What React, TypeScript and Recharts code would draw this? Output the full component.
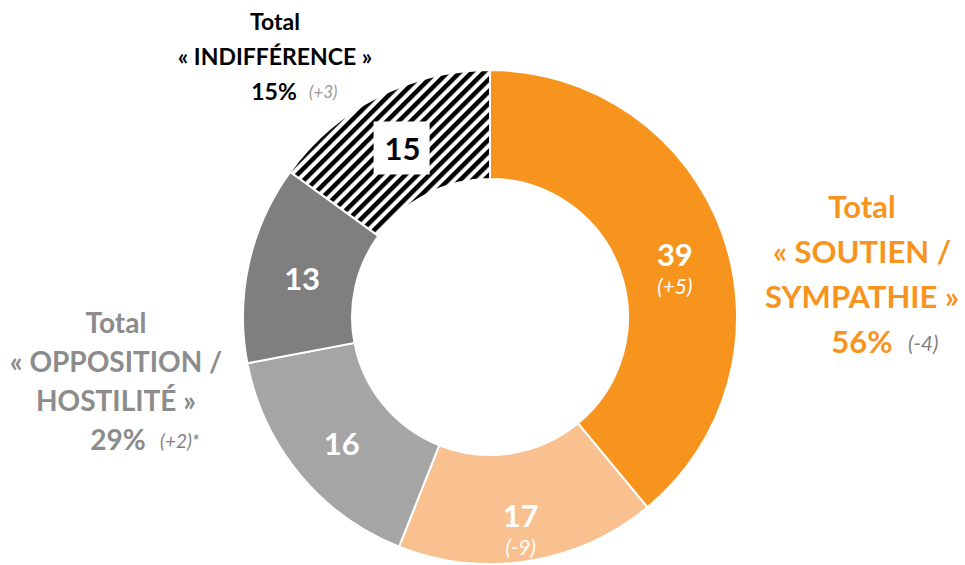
import { PieChart, Pie, Cell } from "recharts"

const categories = ["Soutien", "Sympathie", "Opposition", "Hostilité", "Indifférence"]
const values = [39, 17, 16, 13, 15]
const deltas = ["(+5)", "(-9)", "", "", ""]
const colors = ["#F7941D", "#F9C18F", "#A5A5A5", "#7F7F7F", "url(#hatch)"]

const groupTitles = [
    ["Total", "« SOUTIEN /", "SYMPATHIE »"],
    ["Total", "« OPPOSITION /", "HOSTILITÉ »"],
    ["Total", "« INDIFFÉRENCE »"],
]
const groupTotals = ["56%", "29%", "15%"]
const groupDeltas = ["(-4)", "(+2)*", "(+3)"]

const data = categories.map((name, i) => ({ name, value: values[i], delta: deltas[i] }))

const FONT = "Lato, 'Open Sans', sans-serif"
const RAD = Math.PI / 180

const renderLabel = (props: any) => {
    const { cx, cy, midAngle, innerRadius, outerRadius, index, value, payload } = props
    const delta = payload?.delta ?? ""
    const r = (innerRadius + outerRadius) / 2 + (delta ? 4 : 0)
    const x = cx + r * Math.cos(-midAngle * RAD)
    const y = cy + r * Math.sin(-midAngle * RAD) + 3
    const hatched = index === 4
    const dy = delta ? 1 : 0
    return (
        <g>
            {hatched && <rect x={x - 29} y={y - 27} width={56} height={53} fill="#fff" />}
            <text x={x} y={y + dy} textAnchor="middle" dominantBaseline="central" fill={hatched ? "#000" : "#fff"} fontSize={31} fontWeight={700} fontFamily={FONT}>
                {value}
            </text>
            {delta && (
                <text x={x} y={y + 32} textAnchor="middle" dominantBaseline="central" fill="#fff" fontSize={21} fontStyle="italic" fontFamily={FONT}>
                    {delta}
                </text>
            )}
        </g>
    )
}

const Group = ({ lines, total, delta, x, y, color, size, lh, tx, ddx, dsize, dcolor }: any) => (
    <g fontFamily={FONT} fontWeight={700}>
        {lines.map((l: string, i: number) => (
            <text key={i} x={x} y={y + i * lh} textAnchor="middle" fill={color} fontSize={size}>
                {l}
            </text>
        ))}
        <text x={tx} y={y + lines.length * lh} textAnchor="middle" fill={color} fontSize={size}>
            {total}
        </text>
        <text x={tx + ddx} y={y + lines.length * lh - 2} textAnchor="start" fill={dcolor} fontSize={dsize} fontWeight={400} fontStyle="italic">
            {delta}
        </text>
    </g>
)

export default function App() {
    return (
        <div style={{ position: "relative", width: 965, height: 565, background: "#fff" }}>
            <style>{"body{margin:0}"}</style>
            <PieChart width={965} height={565}>
                <defs>
                    <pattern id="hatch" patternUnits="userSpaceOnUse" width={8.5} height={8.5} patternTransform="rotate(45)">
                        <rect width={8.5} height={8.5} fill="#fff" />
                        <rect width={4.5} height={8.5} fill="#000" />
                    </pattern>
                </defs>
                <Pie
                    data={data}
                    dataKey="value"
                    cx={485}
                    cy={312}
                    innerRadius={138}
                    outerRadius={247}
                    startAngle={90}
                    endAngle={-270}
                    stroke="#fff"
                    strokeWidth={2}
                    label={renderLabel}
                    labelLine={false}
                    isAnimationActive={false}
                >
                    {data.map((d, i) => (
                        <Cell key={d.name} fill={colors[i]} />
                    ))}
                </Pie>
            </PieChart>
            <svg width={965} height={565} style={{ position: "absolute", left: 0, top: 0, pointerEvents: "none" }}>
                <Group lines={groupTitles[0]} total={groupTotals[0]} delta={groupDeltas[0]} x={862} y={218} color="#F7941D" size={31} lh={45} tx={862} ddx={46} dsize={21} dcolor="#808080" />
                <Group lines={groupTitles[1]} total={groupTotals[1]} delta={groupDeltas[1]} x={116} y={333} color="#8C8C8C" size={28} lh={39} tx={118} ddx={42} dsize={19} dcolor="#808080" />
                <Group lines={groupTitles[2]} total={groupTotals[2]} delta={groupDeltas[2]} x={275} y={30} color="#000" size={23} lh={35} tx={274} ddx={35} dsize={17} dcolor="#9A9A9A" />
            </svg>
        </div>
    )
}
